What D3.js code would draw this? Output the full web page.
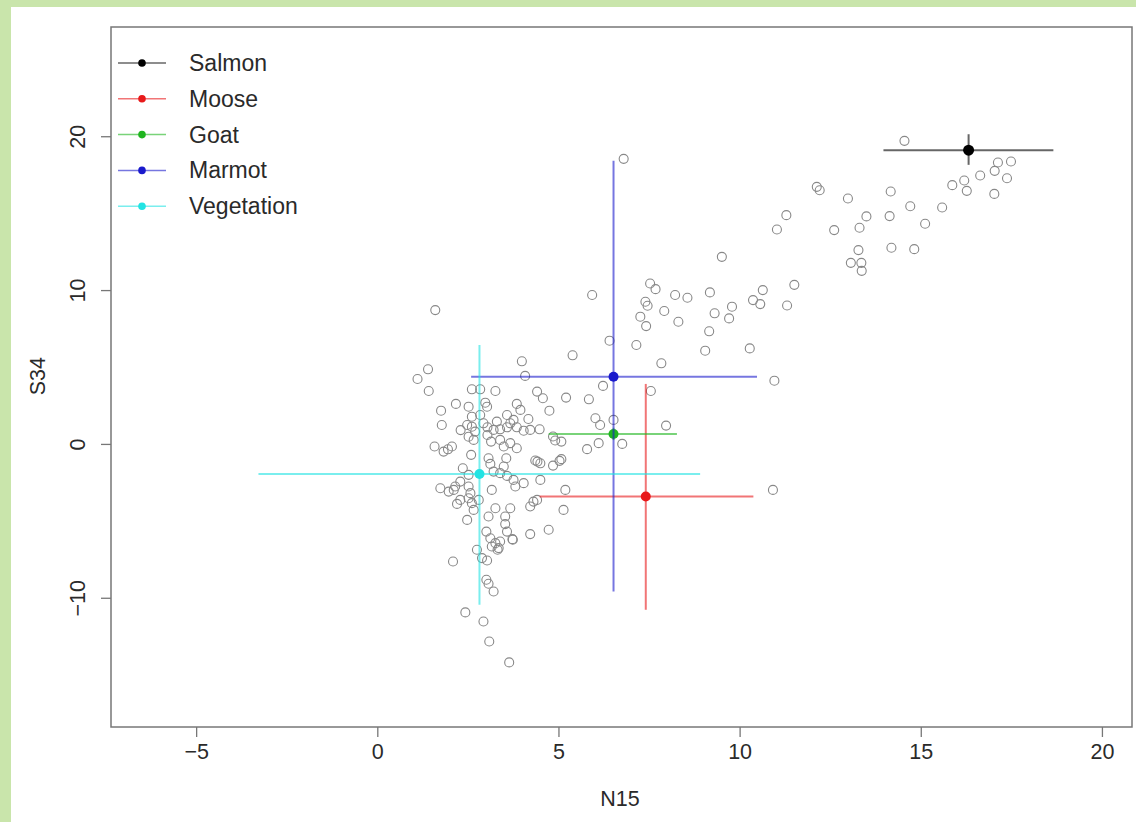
<!DOCTYPE html>
<html>
<head>
<meta charset="utf-8">
<script src="https://cdn.jsdelivr.net/npm/d3@7"></script>
<style>
  html, body { margin: 0; padding: 0; background: #c9e5ab; }
  svg { display: block; }
</style>
</head>
<body>
<svg width="1136" height="822"></svg>
<script>
// tick values
var xTicks = [-5, 0, 5, 10, 15, 20];
var yTicks = [-10, 0, 10, 20];

// group means and error bars
var groups = ["Salmon", "Moose", "Goat", "Marmot", "Vegetation"];
var groupColors = ["#000000", "#e8191a", "#1fb51f", "#1a1acc", "#22e3e3"];
var meanN15 = [16.32, 7.41, 6.52, 6.52, 2.82];
var meanS34 = [19.09, -3.42, 0.65, 4.37, -1.95];
var n15Lo = [13.97, 4.48, 4.73, 2.59, -3.28];
var n15Hi = [18.66, 10.38, 8.27, 10.48, 8.91];
var s34Lo = [18.14, -10.78, 0.25, -9.59, -10.45];
var s34Hi = [20.13, 3.9, 1.05, 18.4, 6.43];

// individual samples [N15, S34]
var samples = [
  [14.55,19.7],[17.13,18.29],[17.49,18.36],[17.04,17.75],[16.64,17.45],[17.38,17.27],[16.2,17.12],
  [15.87,16.82],[16.27,16.45],[17.03,16.25],[12.13,16.71],[12.21,16.49],[12.99,15.95],[14.17,16.41],
  [14.71,15.45],[15.59,15.37],[11.29,14.87],[11.03,13.94],[12.61,13.9],[13.5,14.79],[13.31,14.05],
  [14.14,14.81],[15.12,14.31],[13.28,12.6],[14.19,12.75],[14.82,12.66],[13.07,11.77],[13.36,11.77],
  [13.37,11.25],[11.51,10.34],[10.64,10.0],[10.57,9.09],[11.31,9.0],
  [6.8,18.53],[5.93,9.68],[9.51,12.16],[7.53,10.43],[7.68,10.06],[7.4,9.24],[7.46,8.98],[7.26,8.27],
  [7.42,7.66],[7.92,8.64],[8.22,9.68],[8.56,9.5],[9.18,9.85],[8.31,7.94],[9.31,8.49],[9.79,8.92],
  [9.71,8.16],[9.16,7.32],[10.37,9.35],[10.28,6.21],[9.05,6.06],[7.84,5.24],[7.15,6.43],[6.41,6.71],
  [5.39,5.76],[10.96,4.11],[6.23,3.77],[7.55,3.44],[5.21,3.01],[5.84,2.9],[6.02,1.67],[6.15,1.23],
  [6.52,1.56],[7.97,1.19],[6.11,0.05],[5.79,-0.34],[6.76,0.0],[5.08,0.15],[5.08,-0.99],[5.19,-2.99],
  [10.92,-2.99],
  [1.6,8.7],[3.99,5.37],[4.08,4.42],[1.4,4.85],[1.11,4.22],[1.42,3.44],[4.75,2.16],[4.41,3.4],
  [4.57,2.97],[3.26,3.44],[2.61,3.55],[2.84,3.55],[2.17,2.6],[1.76,2.16],[1.78,1.23],[1.58,-0.17],
  [1.83,-0.5],[2.06,-0.17],[4.85,0.48],[4.91,0.22],[4.48,0.95],[5.14,-4.29],[5.03,-1.1],[4.85,-1.41],
  [4.42,-1.15],[4.5,-2.34],[4.73,-5.58],[4.22,-4.07],[4.31,-3.75],[4.41,-3.64],[4.22,-5.86],[3.73,-6.19],
  [3.26,-4.18],[3.67,-4.18],[3.53,-4.72],[3.53,-5.21],[3.58,-5.7],[3.07,-4.72],[3.01,-5.7],[3.12,-6.13],
  [3.26,-6.45],[3.35,-6.77],[3.16,-6.67],[2.75,-6.88],[2.89,-7.42],[3.03,-7.58],[2.09,-7.64],[3.01,-8.83],
  [3.07,-9.09],[3.21,-9.59],[2.43,-10.95],[2.93,-11.54],[3.09,-12.84],[3.64,-14.2],[2.48,-4.94],[2.66,-4.29],
  [2.29,-3.64],[2.2,-3.9],[2.52,-3.53],[2.8,-3.64],[1.74,-2.88],[1.97,-3.1],[2.52,-2.77],[2.29,-2.45],
  [3.16,-2.99],[3.81,-2.77],[4.04,-2.55],[2.52,2.42],[2.61,1.77],[2.48,1.23],[2.61,1.12],[2.98,2.68],
  [3.03,2.42],[3.85,2.6],[3.95,2.21],[3.58,1.88],[3.76,1.56],[4.17,1.62],[2.84,1.88],[2.93,1.34],
  [3.04,1.08],[3.3,1.45],[3.21,0.91],[3.39,0.95],[3.58,1.08],[3.67,1.34],[3.85,1.08],[4.04,0.86],
  [4.22,0.91],[2.66,0.26],[2.7,0.8],[2.52,0.47],[3.04,0.58],[3.14,0.15],[3.39,0.26],[3.49,-0.17],
  [3.67,0.05],[3.85,-0.28],[2.59,-0.71],[3.07,-0.93],[3.12,-1.3],[3.56,-0.93],[4.36,-1.08],[4.5,-1.26],
  [2.36,-1.58],[2.52,-2.01],[3.21,-1.8],[3.39,-1.9],[3.58,-2.08],[3.76,-2.34],[3.49,-1.47],[2.15,-2.77],
  [2.11,-2.99],[2.61,-3.85],[2.57,-3.2],[3.39,-6.34],[3.74,-6.23],[3.32,-6.88],[1.95,-0.35],[2.3,0.9]
];

var svg = d3.select("svg");
var font = "'Liberation Sans', Arial, sans-serif";
var textColor = "#2a2a2a";

// white page over green border
svg.append("rect").attr("x", 11).attr("y", 7).attr("width", 1125).attr("height", 815).attr("fill", "#fff");

// scales (box edges)
var x = d3.scaleLinear().domain([-7.35, 20.83]).range([111, 1132]);
var y = d3.scaleLinear().domain([-18.4, 27.1]).range([727, 27]);

// axes
var xAxis = svg.append("g").attr("transform", "translate(0,727)")
  .call(d3.axisBottom(x).tickValues(xTicks).tickSize(10).tickPadding(7).tickFormat(d3.format("d")));
var yAxis = svg.append("g").attr("transform", "translate(111,0)")
  .call(d3.axisLeft(y).tickValues(yTicks).tickSize(10).tickPadding(6).tickFormat(d3.format("d")));
xAxis.select(".domain").remove();
yAxis.select(".domain").remove();
svg.selectAll(".tick line").attr("stroke", "#777").attr("stroke-width", 1.3);
svg.selectAll(".tick text").attr("font-family", font).attr("font-size", 21.5).attr("fill", textColor);
// R style: y tick labels parallel to axis
yAxis.selectAll(".tick text")
  .attr("text-anchor", "middle")
  .attr("x", null).attr("dy", null)
  .attr("transform", "translate(-34,0) rotate(-90)")
  .attr("y", 8);

// box
svg.append("rect").attr("x", 111).attr("y", 27).attr("width", 1021).attr("height", 700)
  .attr("fill", "none").attr("stroke", "#777").attr("stroke-width", 1.5);

// axis titles
svg.append("text").attr("x", x(6.7)).attr("y", 806).attr("text-anchor", "middle")
  .attr("font-family", font).attr("font-size", 21.5).attr("fill", textColor).text("N15");
svg.append("text").attr("transform", "translate(45," + y(4.4) + ") rotate(-90)")
  .attr("text-anchor", "middle").attr("font-family", font).attr("font-size", 21.5)
  .attr("fill", textColor).text("S34");

// samples
svg.append("g").selectAll("circle").data(samples).join("circle")
  .attr("cx", function(d) { return x(d[0]); })
  .attr("cy", function(d) { return y(d[1]); })
  .attr("r", 4.5)
  .attr("fill", "none")
  .attr("stroke", "#888")
  .attr("stroke-width", 1.1);

// error bars
var bars = svg.append("g");
groups.forEach(function(g, i) {
  var c = groupColors[i];
  bars.append("line").attr("x1", x(n15Lo[i])).attr("x2", x(n15Hi[i]))
    .attr("y1", y(meanS34[i])).attr("y2", y(meanS34[i]))
    .attr("stroke", c).attr("stroke-width", 2).attr("stroke-opacity", 0.6);
  bars.append("line").attr("x1", x(meanN15[i])).attr("x2", x(meanN15[i]))
    .attr("y1", y(s34Lo[i])).attr("y2", y(s34Hi[i]))
    .attr("stroke", c).attr("stroke-width", 2).attr("stroke-opacity", 0.6);
  bars.append("circle").attr("cx", x(meanN15[i])).attr("cy", y(meanS34[i]))
    .attr("r", i === 0 ? 5.5 : 5).attr("fill", c);
});

// legend
var legend = svg.append("g");
groups.forEach(function(g, i) {
  var ly = 63 + i * 35.8;
  legend.append("line").attr("x1", 118).attr("x2", 166).attr("y1", ly).attr("y2", ly)
    .attr("stroke", groupColors[i]).attr("stroke-width", 1.5).attr("stroke-opacity", 0.6);
  legend.append("circle").attr("cx", 142).attr("cy", ly).attr("r", 3.8).attr("fill", groupColors[i]);
  legend.append("text").attr("x", 189).attr("y", ly + 8).attr("font-family", font)
    .attr("font-size", 23).attr("fill", textColor).text(g);
});
</script>
</body>
</html>
